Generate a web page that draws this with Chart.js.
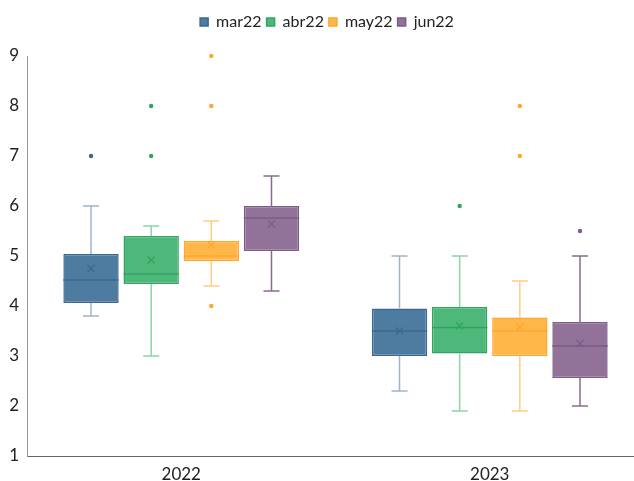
<!DOCTYPE html>
<html>
<head>
<meta charset="utf-8">
<script src="https://cdn.jsdelivr.net/npm/chart.js@4/dist/chart.umd.min.js"></script>
<style>
  html, body { margin: 0; padding: 0; background: #fff; overflow: hidden; }
  #wrap { width: 644px; height: 481px; }
</style>
</head>
<body>
<div id="wrap"><canvas id="chart" width="644" height="481"></canvas></div>
<script>
// Categorias y series
const categories = ['2022', '2023'];
const seriesNames = ['mar22', 'abr22', 'may22', 'jun22'];

// Valores por serie: [2022, 2023]
const minValues    = [[3.8, 2.3], [3.0, 1.9], [4.4, 1.9], [4.3, 2.0]];
const q1Values     = [[4.06, 3.0], [4.44, 3.05], [4.9, 3.0], [5.1, 2.56]];
const medianValues = [[4.52, 3.5], [4.64, 3.57], [5.0, 3.5], [5.76, 3.2]];
const q3Values     = [[5.04, 3.95], [5.4, 3.98], [5.3, 3.77], [6.0, 3.68]];
const maxValues    = [[6.0, 5.0], [5.6, 5.0], [5.7, 4.5], [6.6, 5.0]];
const meanValues   = [[4.75, 3.5], [4.92, 3.6], [5.22, 3.58], [5.64, 3.25]];
const outlierValues = [[[7], []], [[7, 8], [6]], [[4, 8, 9], [7, 8]], [[], [5.5]]];

const yTicks = [1, 2, 3, 4, 5, 6, 7, 8, 9];

const fillColors   = ['#4e7ba0', '#4db87a', '#ffb74a', '#93729a'];
const borderColors = ['#3a6890', '#2fa562', '#ffa62b', '#7d5b87'];
const whiskerColors = ['#9db5cb', '#8fd3ab', '#ffcd80', '#8a6a92'];

// Espacio extra bajo la leyenda y leyenda algo desplazada a la derecha
const legendSpacer = {
    id: 'legendSpacer',
    beforeInit(chart) {
        const fit = chart.legend.fit;
        chart.legend.fit = function () {
            fit.bind(chart.legend)();
            this.height += 16;
        };
    },
    afterLayout(chart) {
        chart.legend.left += 5;
        chart.legend.right += 5;
    }
};

// Dibuja bigotes, mediana, media y valores atipicos
const boxPlotPlugin = {
    id: 'boxPlot',
    afterDatasetsDraw(chart) {
        const ctx = chart.ctx;
        const y = chart.scales.y;
        chart.data.datasets.forEach((ds, i) => {
            const meta = chart.getDatasetMeta(i);
            if (meta.hidden) return;
            meta.data.forEach((bar, j) => {
                const x = bar.x;
                const half = bar.width / 2;
                const cap = 8;
                const yMin = y.getPixelForValue(minValues[i][j]);
                const yQ1 = y.getPixelForValue(q1Values[i][j]);
                const yMed = y.getPixelForValue(medianValues[i][j]);
                const yQ3 = y.getPixelForValue(q3Values[i][j]);
                const yMax = y.getPixelForValue(maxValues[i][j]);
                const yMean = y.getPixelForValue(meanValues[i][j]);

                ctx.save();
                // bigotes
                ctx.strokeStyle = whiskerColors[i];
                ctx.lineWidth = 1.5;
                ctx.beginPath();
                ctx.moveTo(x, yQ3); ctx.lineTo(x, yMax);
                ctx.moveTo(x - cap, yMax); ctx.lineTo(x + cap, yMax);
                ctx.moveTo(x, yQ1); ctx.lineTo(x, yMin);
                ctx.moveTo(x - cap, yMin); ctx.lineTo(x + cap, yMin);
                ctx.stroke();

                // mediana
                ctx.strokeStyle = borderColors[i];
                ctx.lineWidth = 1.5;
                ctx.beginPath();
                ctx.moveTo(x - half, yMed); ctx.lineTo(x + half, yMed);
                ctx.stroke();

                // media (x)
                const m = 3.5;
                ctx.lineWidth = 1.2;
                ctx.beginPath();
                ctx.moveTo(x - m, yMean - m); ctx.lineTo(x + m, yMean + m);
                ctx.moveTo(x - m, yMean + m); ctx.lineTo(x + m, yMean - m);
                ctx.stroke();

                // atipicos
                ctx.fillStyle = borderColors[i];
                outlierValues[i][j].forEach(v => {
                    ctx.beginPath();
                    ctx.arc(x, y.getPixelForValue(v), 2.2, 0, Math.PI * 2);
                    ctx.fill();
                });
                ctx.restore();
            });
        });
    }
};

new Chart(document.getElementById('chart'), {
    type: 'bar',
    data: {
        labels: categories,
        datasets: seriesNames.map((name, i) => ({
            label: name,
            data: categories.map((c, j) => [q1Values[i][j], q3Values[i][j]]),
            backgroundColor: fillColors[i],
            borderColor: borderColors[i],
            borderWidth: 1.5,
            borderSkipped: false,
            categoryPercentage: 0.78,
            barPercentage: 0.92
        }))
    },
    options: {
        responsive: false,
        animation: false,
        layout: { padding: { left: 0, top: 9, right: 0, bottom: 0 } },
        plugins: {
            legend: {
                position: 'top',
                labels: {
                    boxWidth: 8,
                    boxHeight: 8,
                    padding: 5,
                    color: '#222',
                    font: { family: 'Lato', size: 16 }
                }
            },
            tooltip: { enabled: false }
        },
        scales: {
            x: {
                grid: { display: false },
                border: { display: true, color: '#666', width: 1 },
                afterFit: axis => { axis.height = 25; },
                ticks: { color: '#222', font: { family: 'Lato', size: 17 }, padding: 0 }
            },
            y: {
                min: 1,
                max: 9,
                afterBuildTicks: axis => { axis.ticks = yTicks.map(v => ({ value: v })); },
                afterFit: axis => { axis.width = 27; },
                grid: { display: false },
                border: { display: true, color: '#999', width: 1 },
                ticks: { color: '#222', font: { family: 'Lato', size: 17 }, padding: 0 }
            }
        }
    },
    plugins: [legendSpacer, boxPlotPlugin]
});
</script>
</body>
</html>
